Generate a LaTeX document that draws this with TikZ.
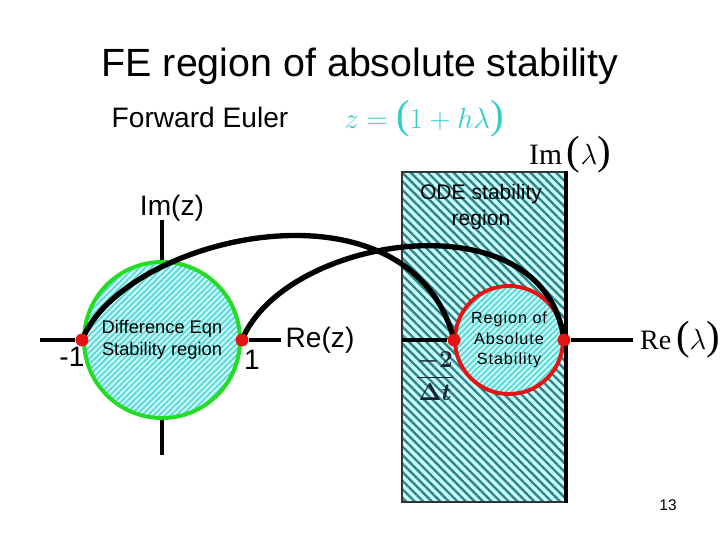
\documentclass[tikz,border=0pt]{standalone}
\usepackage{amsmath}
\usepackage{fontspec}
\setmainfont{Liberation Sans}
\newfontfamily\tmsfont{Liberation Serif}
\usetikzlibrary{patterns.meta, positioning}
\definecolor{hatchbg}{HTML}{CCFFFF}
\definecolor{hatchcy}{HTML}{5CD6D6}
\definecolor{hatchtl}{HTML}{2E8585}
\definecolor{rimgreen}{HTML}{22DD22}
\definecolor{rimred}{HTML}{E31414}
\definecolor{mapcyan}{HTML}{33CCCC}
\definecolor{fracink}{HTML}{1A2238}
\newcommand{\tallparen}[1]{{\tmsfont\fontsize{29}{29}\selectfont #1}}
\tikzset{
  axis/.style    ={line width=2.5pt, draw=black},
  mapline/.style ={line width=3.8pt, draw=black},
  dot/.style     ={circle, fill=rimred, minimum size=9pt, inner sep=0pt},
  zdisk/.style   ={circle, draw=rimgreen, line width=2.8pt, minimum size=3.9cm,
                   inner sep=0pt, preaction={fill=hatchbg},
                   pattern={Lines[angle=45,distance=2.9pt,line width=1.3pt]},
                   pattern color=hatchcy, align=center,
                   font=\fontsize{13}{15.5}\selectfont},
  rdisk/.style   ={zdisk, draw=rimred, minimum size=2.7cm,
                   font=\fontsize{11.5}{14.5}\selectfont\addfontfeature{LetterSpace=6}},
  odebox/.style  ={draw=black!80, line width=0.8pt, preaction={fill=hatchbg},
                   pattern={Lines[angle=-45,distance=4.3pt,line width=1.7pt]},
                   pattern color=hatchtl, minimum width=4.075cm,
                   minimum height=8.25cm, inner sep=0pt},
  big/.style     ={font=\fontsize{20}{24}\selectfont},
  small/.style   ={font=\fontsize{15}{18}\selectfont, align=center}
}
\begin{document}
\begin{tikzpicture}[x=0.025cm, y=-0.025cm]
  \useasboundingbox (0,0) rectangle (720,540);

  % lambda plane
  \node[odebox] (ode) at (483.5,337) {};
  \node[small] (odetxt) at (481,207) {ODE stability\\region};
  \coordinate (lreleft)  at (402,340);
  \coordinate (lreright) at (633,340);
  \node[rdisk] (rdisk) at (509,340) {Region of\\Absolute\\Stability};
  \node[dot] (l2) at (rdisk.west) {};
  \node[dot] (l0) at (rdisk.east) {};
  \draw[axis] (lreleft) -- (l2);
  \draw[axis] (l0) -- (lreright);
  \draw[axis] (ode.north east) -- (ode.south east);

  % z plane
  \coordinate (zimtop) at (162,220);
  \coordinate (zimbot) at (162,455);
  \coordinate (zreleft)  at (40,340);
  \coordinate (zreright) at (281,340);
  \draw[axis] (zimtop) -- (zimbot);
  \node[zdisk] (zdisk) at (162,340) {Difference Eqn\\Stability region};
  \node[dot] (zm1) at (zdisk.west) {};
  \node[dot] (zp1) at (zdisk.east) {};
  \draw[axis] (zreleft) -- (zm1);
  \draw[axis] (zp1) -- (zreright);

  % mapping z -> lambda
  \draw[mapline] (zm1.center) .. controls (125,235) and (410,170) .. (l2.center);
  \draw[mapline] (zp1.center) .. controls (285,235) and (545,195) .. (l0.center);
  \node[dot] at (zm1) {};
  \node[dot] at (zp1) {};
  \node[dot] at (l2) {};
  \node[dot] at (l0) {};

  % labels
  \node[inner sep=0pt, font=\fontsize{28}{32}\selectfont] (title) at (360,66) {FE region of absolute stability};
  \node[big] (fe) at (200,117) {Forward Euler};
  \node[text=mapcyan, inner sep=0pt, font=\fontsize{22}{24}\selectfont] (map) at (424,119)
    {$z={}$\tallparen{(}$1+h\lambda$\tallparen{)}};
  \node[inner sep=0pt, font=\fontsize{21}{24}\selectfont] (imlam) at (570,155)
    {{\tmsfont Im}\,\tallparen{(}$\lambda$\tallparen{)}};
  \node[inner sep=0pt, font=\fontsize{20}{24}\selectfont] (relam) at (680,340)
    {{\tmsfont Re}\,\tallparen{(}$\lambda$\tallparen{)}};
  \node[text=fracink, font=\fontsize{19}{24}\selectfont] (frac) at (435,376) {$\dfrac{\boldsymbol{-2}}{\boldsymbol{\Delta t}}$};
  \node[big] (imz) at (172,208) {Im(z)};
  \node[big] (rez) at (320,340) {Re(z)};
  \node[big] (mone) at (72,357) {-1};
  \node[big] (one) at (252,360) {1};
  \node[font=\fontsize{11}{13}\selectfont] (page) at (668,505) {13};
\end{tikzpicture}
\end{document}
